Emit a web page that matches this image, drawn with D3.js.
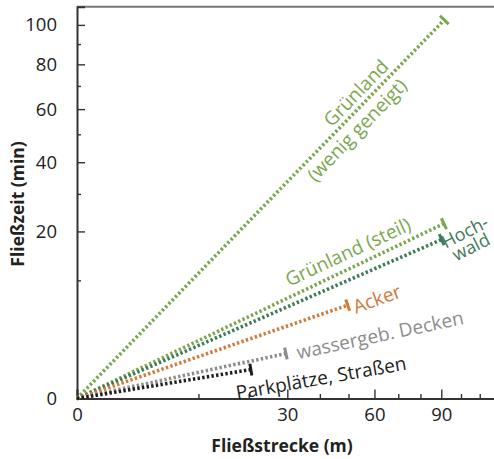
<!DOCTYPE html>
<html>
<head>
<meta charset="utf-8">
<script src="https://cdn.jsdelivr.net/npm/d3@7"></script>
<style>
body { margin:0; background:#fff; }
text { font-family: "Open Sans", "Noto Sans", sans-serif; }
</style>
</head>
<body>
<svg id="chart" width="494" height="459"></svg>
<script>
// ---- data ----
const categories = ["Grünland (wenig geneigt)", "Grünland (steil)", "Hochwald", "Acker", "wassergeb. Decken", "Parkplätze, Straßen"];
const lengthEnd = [91.5, 91.3, 90.2, 49.7, 29.6, 20.5];   // Fließstrecke (m)
const timeEnd   = [102.7, 21.9, 18.1, 6.24, 1.45, 0.60];   // Fließzeit (min)
const colors    = ["#7ba64e", "#7ba64e", "#3d7a55", "#d07a3c", "#8c8c8c", "#1e1e1e"];
const xMajor = [0, 30, 60, 90];
const xMinor = [10, 20, 40, 50, 70, 80, 100, 110];
const yMajor = [0, 20, 40, 60, 80, 100];
const yMinor = [10, 30, 50, 70, 90];

const svg = d3.select("#chart");
const x0 = 77, kx = 38.4, y0 = 398.5, ky = 37.36;
const x = d3.scaleSqrt().domain([0, 120]).range([x0, x0 + kx * Math.sqrt(120)]);
const y = d3.scaleSqrt().domain([0, 110]).range([y0, y0 - ky * Math.sqrt(110)]);

// top frame line
svg.append("line")
  .attr("x1", x(0)).attr("x2", 494)
  .attr("y1", y(110)).attr("y2", y(110))
  .attr("stroke", "#777").attr("stroke-width", 2);

// axes
const fmt = d3.format("d");
const gx = svg.append("g").attr("transform", `translate(0,${y(0)})`)
  .call(d3.axisBottom(x).tickValues(xMajor).tickSize(-9).tickPadding(9).tickFormat(fmt));
const gxm = svg.append("g").attr("transform", `translate(0,${y(0)})`)
  .call(d3.axisBottom(x).tickValues(xMinor).tickSize(-4.5).tickFormat(""));
const gy = svg.append("g").attr("transform", `translate(${x(0)},0)`)
  .call(d3.axisLeft(y).tickValues(yMajor).tickSize(-8).tickPadding(20).tickFormat(fmt));
const gym = svg.append("g").attr("transform", `translate(${x(0)},0)`)
  .call(d3.axisLeft(y).tickValues(yMinor).tickSize(-4).tickFormat(""));

[gx, gxm, gy, gym].forEach(g => {
  g.select(".domain").attr("stroke", "#333").attr("stroke-width", 2);
  g.selectAll(".tick line").attr("stroke", "#333").attr("stroke-width", 1.4);
  g.selectAll(".tick text").attr("fill", "#222").style("font-size", "18.5px")
    .style("font-family", "'Open Sans', sans-serif");
});
gxm.select(".domain").remove();
gym.select(".domain").remove();

// series lines
categories.forEach((c, i) => {
  const pts = [[0, 0], [lengthEnd[i], timeEnd[i]]];
  svg.append("path")
    .attr("d", d3.line().x(d => x(d[0])).y(d => y(d[1]))(pts))
    .attr("fill", "none")
    .attr("stroke", colors[i])
    .attr("stroke-width", 3.6)
    .attr("stroke-dasharray", "2.4,2.3");
  // end tick perpendicular to line
  const ex = x(lengthEnd[i]), ey = y(timeEnd[i]);
  const dx = ex - x(0), dy = ey - y(0);
  const L = Math.hypot(dx, dy);
  const nx = -dy / L, ny = dx / L;
  const h = 6;
  svg.append("line")
    .attr("x1", ex - nx * h).attr("y1", ey - ny * h)
    .attr("x2", ex + nx * h).attr("y2", ey + ny * h)
    .attr("stroke", colors[i]).attr("stroke-width", 3);
});

// series labels
const labels = [
  { t: "Grünland", cx: 356, cy: 93, r: -46, c: colors[0], s: 19 },
  { t: "(wenig geneigt)", cx: 357, cy: 130, r: -46, c: colors[0], s: 19 },
  { t: "Grünland (steil)", cx: 348, cy: 252, r: -25, c: colors[1], s: 19 },
  { t: "Hoch-", cx: 465, cy: 232, r: -27, c: colors[2], s: 18 },
  { t: "wald", cx: 471, cy: 247, r: -27, c: colors[2], s: 18 },
  { t: "Acker", cx: 377, cy: 299, r: -20, c: colors[3], s: 19 },
  { t: "wassergeb. Decken", cx: 380, cy: 335, r: -12, c: colors[4], s: 19 },
  { t: "Parkplätze, Straßen", cx: 321, cy: 378, r: -10, c: colors[5], s: 19 }
];
labels.forEach(l => {
  svg.append("text")
    .attr("transform", `translate(${l.cx},${l.cy}) rotate(${l.r})`)
    .attr("text-anchor", "middle")
    .attr("dy", "0.35em")
    .attr("fill", l.c)
    .style("font-size", l.s + "px")
    .text(l.t);
});

// axis titles
svg.append("text")
  .attr("x", 282).attr("y", 452)
  .attr("text-anchor", "middle")
  .style("font-size", "17.5px").style("font-weight", "bold").attr("fill", "#222")
  .text("Fließstrecke (m)");
svg.append("text")
  .attr("transform", `translate(24,204) rotate(-90)`)
  .attr("text-anchor", "middle")
  .style("font-size", "17.5px").style("font-weight", "bold").attr("fill", "#222")
  .text("Fließzeit (min)");
</script>
</body>
</html>
